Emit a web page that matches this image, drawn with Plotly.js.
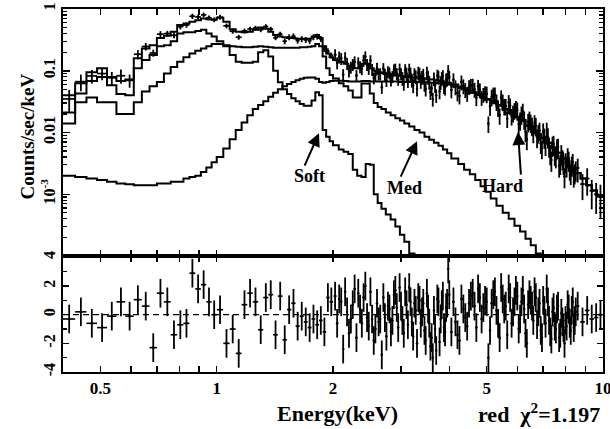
<!DOCTYPE html>
<html><head><meta charset="utf-8">
<script src="https://cdn.plot.ly/plotly-3.0.1.min.js"></script>
<style>html,body{margin:0;padding:0;background:#fff}#chart{width:610px;height:429px}</style>
</head><body><div id="chart"></div>
<script>
// ---- model bins (lower edges, keV) ----
const modelEdges = [0.40,0.43,0.46,0.49,0.52,0.55,0.58,0.61,0.64,0.67,0.70,0.73,0.76,0.79,0.82,0.85,0.88,0.91,0.94,0.97,
 1.00,1.04,1.08,1.12,1.16,1.20,1.24,1.28,1.32,1.36,1.40,1.44,1.48,1.52,1.56,1.60,1.64,1.68,1.72,1.76,1.80,1.84,1.88,1.92,1.96,
 2.00,2.07,2.13,2.19,2.25,2.31,2.37,2.43,2.49,2.55,2.61,2.67,2.74,2.82,2.90,2.98,3.06,3.15,3.25,3.35,3.45,3.55,3.65,3.75,3.85,3.95,
 4.05,4.22,4.37,4.52,4.67,4.82,4.97,5.12,5.30,5.50,5.70,5.90,6.10,6.30,6.50,6.70,6.90,7.12,7.37,7.62,7.87,8.15,8.45,8.75,9.05,9.35,9.65];
const modelEdgeMax = 10;
const totalModel = [0.040,0.063,0.095,0.11,0.079,0.068,0.072,0.16,0.23,0.26,0.34,0.37,0.43,0.55,0.58,0.62,0.66,0.70,0.68,0.67,
 0.72,0.62,0.47,0.43,0.42,0.43,0.46,0.50,0.48,0.43,0.38,0.36,0.35,0.34,0.34,0.33,0.33,0.33,0.33,0.36,0.38,0.34,0.25,0.19,0.165,
 0.15,0.14,0.13,0.12,0.11,0.11,0.13,0.13,0.11,0.10,0.095,0.092,0.089,0.086,0.084,0.082,0.080,0.078,0.077,0.076,0.074,0.072,0.070,0.068,0.066,0.064,
 0.060,0.055,0.050,0.046,0.042,0.038,0.035,0.032,0.028,0.024,0.021,0.018,0.016,0.013,0.011,0.0095,0.0082,0.0068,0.0056,0.0047,0.0038,0.0028,0.0022,0.0018,0.0014,0.00115,0.00092];
const softModel = [0.021,0.043,0.068,0.079,0.058,0.042,0.040,0.11,0.15,0.18,0.25,0.26,0.30,0.40,0.42,0.42,0.44,0.46,0.40,0.36,
 0.30,0.25,0.18,0.14,0.135,0.135,0.14,0.20,0.215,0.17,0.10,0.065,0.050,0.042,0.036,0.032,0.029,0.027,0.027,0.033,0.045,0.040,0.011,0.0085,0.0072,
 0.0062,0.0053,0.0049,0.0045,0.0025,0.0020,0.0019,0.0031,0.0030,0.0010,0.00072,0.00058,0.00047,0.00039,0.00030,0.00022,0.00017,0.00011,0.00008];
const medModel = [0.014,0.031,0.037,0.031,0.031,0.020,0.020,0.031,0.046,0.056,0.066,0.090,0.115,0.14,0.165,0.19,0.21,0.23,0.25,0.27,
 0.27,0.26,0.25,0.245,0.24,0.24,0.245,0.25,0.245,0.24,0.235,0.235,0.235,0.235,0.235,0.235,0.24,0.24,0.245,0.25,0.27,0.25,0.17,0.11,0.085,
 0.075,0.063,0.056,0.048,0.037,0.037,0.062,0.062,0.043,0.030,0.026,0.024,0.021,0.019,0.017,0.0157,0.014,0.0125,0.011,0.010,0.0085,0.0076,0.0068,0.0061,0.0053,0.0046,
 0.0038,0.0031,0.0025,0.0021,0.0017,0.00135,0.0011,0.00085,0.00065,0.0005,0.0004,0.00031,0.00025,0.00019,0.00015,0.00011,0.00008];
const hardModel = [0.0020,0.0019,0.0018,0.0017,0.0016,0.0015,0.00145,0.0014,0.0014,0.0014,0.0015,0.0015,0.0016,0.0016,0.0018,0.0019,0.0020,0.0023,0.0027,0.0033,
 0.0040,0.0055,0.0078,0.011,0.0145,0.019,0.024,0.028,0.032,0.038,0.044,0.050,0.056,0.061,0.066,0.070,0.074,0.077,0.078,0.078,0.074,0.066,0.064,0.066,0.068,
 0.069,0.069,0.068,0.067,0.067,0.067,0.068,0.068,0.067,0.067,0.067,0.067,0.067,0.067,0.067,0.066,0.066,0.066,0.066,0.065,0.065,0.064,0.063,0.062,0.061,0.060,
 0.056,0.052,0.048,0.044,0.040,0.037,0.034,0.031,0.027,0.0235,0.0205,0.0177,0.0157,0.0128,0.0109,0.0094,0.0081,0.0068,0.0056,0.0047,0.0038,0.0028,0.0022,0.0018,0.0014,0.00115,0.00092];

// ---- data (bin centres, keV) ----
const dataE = [0.415,0.445,0.475,0.505,0.535,0.565,0.595,0.625,0.655,0.685,0.715,0.745,0.775,0.805,0.835,0.865,0.895,0.925,0.955,0.985,
 1.02,1.06,1.10,1.14,1.18,1.22,1.26,1.30,1.34,1.38,1.42,1.46,1.50,1.54,1.58,1.62,1.66,1.70,1.74,1.78,1.82,1.86,1.90,1.94,1.98,
 2.025,2.05,2.075,2.10,2.125,2.15,2.175,2.20,2.225,2.25,2.275,2.30,2.325,2.35,2.375,2.40,2.425,2.45,2.475,2.50,
 2.525,2.55,2.575,2.60,2.625,2.65,2.675,2.70,2.725,2.75,2.775,2.80,2.825,2.85,2.875,2.90,2.925,2.95,2.975,3.00,
 3.025,3.05,3.075,3.10,3.125,3.15,3.175,3.20,3.225,3.25,3.275,3.30,3.325,3.35,3.375,3.40,3.425,3.45,3.475,3.50,
 3.525,3.55,3.575,3.60,3.625,3.65,3.675,3.70,3.725,3.75,3.775,3.80,3.825,3.85,3.875,3.90,3.925,3.95,3.975,4.00,
 4.05,4.10,4.15,4.20,4.25,4.30,4.35,4.40,4.45,4.50,4.55,4.60,4.65,4.70,4.75,4.80,4.85,4.90,4.95,5.00,
 5.05,5.10,5.15,5.20,5.25,5.30,5.35,5.40,5.45,5.50,5.55,5.60,5.65,5.70,5.75,5.80,5.85,5.90,5.95,6.00,
 6.05,6.10,6.15,6.20,6.25,6.30,6.35,6.40,6.45,6.50,6.55,6.60,6.65,6.70,6.75,6.80,6.85,6.90,6.95,7.00,
 7.05,7.10,7.15,7.20,7.25,7.30,7.35,7.40,7.45,7.50,7.55,7.60,7.65,7.70,7.75,7.80,7.85,7.90,7.95,8.00,
 8.05,8.10,8.15,8.20,8.25,8.30,8.35,8.40,8.45,8.50,
 8.6,8.85,9.1,9.35,9.6,9.85];
const dataCounts = [0.035,0.0665,0.0825,0.090,0.077,0.083,0.070,0.185,0.247,0.194,0.391,0.40,0.376,0.519,0.552,0.764,0.743,0.803,0.723,0.67,
 0.738,0.533,0.437,0.349,0.441,0.475,0.489,0.463,0.520,0.472,0.343,0.393,0.301,0.350,0.362,0.309,0.327,0.317,0.306,0.351,0.359,0.329,0.226,0.208,0.177,
 0.182,0.135,0.168,0.159,0.087,0.164,0.132,0.100,0.115,0.127,0.140,0.084,0.135,0.117,0.109,0.148,0.169,0.127,0.110,0.146,
 0.105,0.077,0.085,0.110,0.089,0.090,0.054,0.109,0.088,0.070,0.097,0.093,0.071,0.081,0.104,0.107,0.090,0.073,0.107,0.090,
 0.076,0.063,0.102,0.090,0.070,0.104,0.090,0.071,0.058,0.088,0.081,0.051,0.093,0.0895,0.068,0.079,0.086,0.061,0.051,0.093,
 0.079,0.066,0.045,0.052,0.035,0.075,0.058,0.040,0.083,0.080,0.046,0.065,0.076,0.082,0.056,0.053,0.072,0.074,0.099,0.079,
 0.049,0.0715,0.055,0.0438,0.039,0.0659,0.057,0.0496,0.043,0.0555,0.058,0.0584,0.050,0.0365,0.056,0.0492,0.037,0.0414,0.044,0.0425,
 0.014,0.0265,0.038,0.041,0.041,0.0318,0.0255,0.019,0.037,0.0317,0.027,0.0269,0.0169,0.031,0.0273,0.0185,0.0208,0.0230,0.025,0.0231,
 0.0137,0.0159,0.0198,0.022,0.0165,0.0104,0.0077,0.0150,0.0164,0.0146,0.0130,0.0100,0.0143,0.0129,0.0083,0.0099,0.0108,0.0067,0.0055,0.0103,
 0.0085,0.0065,0.0106,0.0086,0.0061,0.0046,0.0036,0.0063,0.0065,0.0045,0.0041,0.0057,0.0058,0.0029,0.0032,0.0046,0.0038,0.0032,0.00195,0.0034,
 0.0029,0.0041,0.0036,0.0026,0.0022,0.0030,0.0033,0.0020,0.00225,0.0025,
 0.00266,0.00146,0.00179,0.00114,0.0010,0.00092];
const dataRelErr = [0.40,0.30,0.25,0.22,0.24,0.26,0.24,0.17,0.14,0.13,0.12,0.11,0.11,0.10,0.10,0.10,0.09,0.09,0.09,0.09,
 0.09,0.09,0.09,0.09,0.09,0.09,0.09,0.09,0.09,0.09,0.09,0.09,0.11,0.11,0.11,0.11,0.11,0.11,0.11,0.11,0.11,0.11,0.11,0.11,0.11,
 0.22,0.22,0.22,0.22,0.22,0.22,0.22,0.22,0.22,0.22,0.22,0.22,0.22,0.22,0.22,0.22,0.22,0.22,0.22,0.22,
 0.22,0.22,0.22,0.22,0.22,0.22,0.22,0.22,0.22,0.22,0.22,0.22,0.22,0.22,0.22,0.22,0.22,0.22,0.22,0.22,
 0.25,0.25,0.25,0.25,0.25,0.25,0.25,0.25,0.25,0.25,0.25,0.25,0.25,0.25,0.25,0.25,0.25,0.25,0.25,0.25,
 0.25,0.25,0.25,0.25,0.25,0.25,0.25,0.25,0.25,0.25,0.25,0.25,0.25,0.25,0.25,0.25,0.25,0.25,0.25,0.25,
 0.27,0.27,0.27,0.27,0.27,0.27,0.27,0.27,0.27,0.27,0.27,0.27,0.27,0.27,0.27,0.27,0.27,0.27,0.27,0.30,
 0.30,0.30,0.30,0.30,0.30,0.30,0.30,0.30,0.30,0.30,0.30,0.30,0.30,0.30,0.30,0.30,0.30,0.30,0.30,0.33,
 0.33,0.33,0.33,0.33,0.33,0.33,0.33,0.33,0.33,0.33,0.33,0.33,0.33,0.33,0.33,0.33,0.33,0.33,0.33,0.36,
 0.36,0.36,0.36,0.36,0.36,0.36,0.36,0.36,0.36,0.36,0.36,0.36,0.36,0.36,0.36,0.36,0.36,0.36,0.36,0.36,
 0.36,0.36,0.36,0.36,0.36,0.36,0.36,0.36,0.36,0.36,
 0.42,0.45,0.47,0.50,0.52,0.55];
const residuals = [-0.3,0.2,-0.6,-0.9,-0.1,0.9,-0.1,1.05,0.6,-2.3,1.5,0.9,-1.4,-0.7,-0.6,2.9,1.8,2.1,0.9,0.0,
 0.35,-2.0,-1.0,-2.7,0.7,1.5,0.9,-1.05,1.2,1.4,-1.4,1.3,-1.75,0.35,0.8,-0.8,-0.1,-0.5,-0.9,-0.3,-0.7,-0.4,-1.2,1.2,0.9,
 1.3,-0.6,1.1,0.9,-2.4,1.6,0.2,-1.3,-0.3,0.7,1.8,-1.6,1.5,0.4,-0.6,1.2,2.0,-0.2,-0.8,1.6,
 -0.3,-1.8,-1.0,0.8,-0.5,-0.3,-2.8,1.2,-0.2,-1.5,0.6,0.4,-1.2,-0.4,1.4,1.7,0.5,-0.9,1.9,0.6,
 -0.4,-1.3,1.6,0.7,-0.7,1.9,0.9,-0.5,-1.5,0.8,0.3,-2.0,1.2,1.0,-0.6,0.2,0.8,-1.1,-1.8,1.5,
 0.4,-0.6,-2.2,-1.6,-3.0,0.3,-1.0,-2.5,1.1,0.9,-1.9,-0.3,0.7,1.3,-0.9,-1.2,0.5,0.8,3.2,1.4,
 -1.2,0.9,-0.5,-1.4,-1.8,1.1,0.4,-0.2,-0.8,0.8,1.3,1.5,0.6,-0.9,1.8,1.2,-0.3,0.5,1.0,0.9,
 -3.0,-1.1,0.8,1.4,1.6,0.3,-0.6,-1.6,1.9,1.1,0.4,0.6,-1.4,1.8,1.2,-0.6,0.2,0.9,1.7,1.3,
 -1.0,-0.3,0.9,1.7,0.4,-1.3,-2.0,0.7,1.4,1.0,0.6,-0.4,1.6,1.2,-0.7,0.2,0.8,-1.1,-1.6,1.0,
 0.3,-0.6,1.8,0.9,-0.4,-1.2,-1.7,0.2,0.5,-0.8,-1.0,0.4,0.6,-1.6,-1.3,0.1,-0.5,-0.9,-2.0,-0.4,
 -0.8,0.7,0.4,-0.6,-1.1,0.3,0.9,-0.9,-0.4,0.2,
 0.6,-0.5,0.3,-0.3,-0.2,0.0];

// ---- ticks ----
const xTickVals = [0.4,0.5,0.6,0.7,0.8,0.9,1,2,3,4,5,6,7,8,9,10];
const xTickText = ['','0.5','','','','','1','2','','','5','','','','','10'];
const yTickVals = [1,0.1,0.01,0.001];
const yTickText = ['1','0.1','0.01','10<sup>-3</sup>'];
const rTickVals = [-4,-2,0,2,4];
const rTickText = ['-4','-2','0','2','4'];
const rMinorVals = [-3,-1,1,3];

const yMinor = [];
[1e-4,1e-3,1e-2,1e-1].forEach(d => { for (let k = 2; k <= 9; k++) yMinor.push(k * d); });

const FAM = '"Liberation Serif","Times New Roman",Times,serif';
const BLK = '#000';

function stepTrace(vals) {
  const xs = modelEdges.slice(0, vals.length);
  const ys = vals.slice();
  if (vals.length === modelEdges.length) { xs.push(modelEdgeMax); ys.push(vals[vals.length - 1]); }
  return {x: xs, y: ys, type: 'scatter', mode: 'lines', line: {shape: 'hv', color: BLK, width: 2},
          xaxis: 'x', yaxis: 'y', hoverinfo: 'skip'};
}

const halfW = dataE.map((e, i) => {
  const a = i > 0 ? dataE[i - 1] : null, b = i < dataE.length - 1 ? dataE[i + 1] : null;
  if (a === null) return (b - e) / 2;
  if (b === null) return (e - a) / 2;
  return (b - a) / 4;
});

const traces = [
  stepTrace(hardModel), stepTrace(medModel), stepTrace(softModel), stepTrace(totalModel),
  {x: dataE, y: dataCounts, type: 'scatter', mode: 'markers', marker: {size: 2.5, color: BLK},
   error_y: {type: 'data', array: dataCounts.map((v, i) => v * dataRelErr[i]), color: BLK, thickness: 1.8, width: 0},
   error_x: {type: 'data', array: halfW, color: BLK, thickness: 1.7, width: 0},
   xaxis: 'x', yaxis: 'y', hoverinfo: 'skip'},
  {x: dataE, y: residuals, type: 'scatter', mode: 'markers', marker: {size: 2.5, color: BLK},
   error_y: {type: 'constant', value: 1, color: BLK, thickness: 1.8, width: 0},
   error_x: {type: 'data', array: halfW, color: BLK, thickness: 1.6, width: 0},
   xaxis: 'x2', yaxis: 'y2', hoverinfo: 'skip'}
];

const tf = (s) => ({family: FAM, size: s, color: BLK, weight: 'bold'});
const axBase = {showline: true, linewidth: 2, linecolor: BLK, mirror: 'ticks', ticks: 'inside',
  tickcolor: BLK, tickwidth: 1.5, showgrid: false, zeroline: false};
const xr = [Math.log10(0.4), Math.log10(10)];
const botDomain = 116 / 363;

const layout = {
  width: 610, height: 429, margin: {l: 63, r: 7, t: 9, b: 57},
  paper_bgcolor: '#fff', plot_bgcolor: '#fff', showlegend: false,
  font: tf(16),
  xaxis: Object.assign({}, axBase, {type: 'log', range: xr, domain: [0, 1], anchor: 'y',
    tickmode: 'array', tickvals: xTickVals, ticktext: xTickText, showticklabels: false, ticklen: 6}),
  xaxis2: Object.assign({}, axBase, {type: 'log', range: xr, domain: [0, 1], anchor: 'y2', matches: 'x',
    tickmode: 'array', tickvals: xTickVals, ticktext: xTickText, ticklen: 6, tickfont: tf(17),
    ticklabeloverflow: 'allow'}),
  yaxis: Object.assign({}, axBase, {type: 'log', range: [-4, 0], domain: [botDomain, 1], anchor: 'x',
    tickmode: 'array', tickvals: yTickVals, ticktext: yTickText, tickangle: -90, ticklen: 7, tickfont: tf(16),
    minor: {tickmode: 'array', tickvals: yMinor, ticks: 'inside', ticklen: 4, tickcolor: BLK, tickwidth: 1.2}}),
  yaxis2: Object.assign({}, axBase, {range: [-4, 4.1], domain: [0, botDomain], anchor: 'x2',
    tickmode: 'array', tickvals: rTickVals, ticktext: rTickText, tickangle: -90, ticklen: 6, tickfont: tf(16),
    minor: {tickmode: 'array', tickvals: rMinorVals, ticks: 'inside', ticklen: 4, tickcolor: BLK, tickwidth: 1.2}}),
  shapes: [{type: 'line', xref: 'paper', x0: 0, x1: 1, yref: 'y2', y0: 0, y1: 0,
    line: {color: BLK, width: 1.3, dash: '6px,4px'}, layer: 'below'}],
  annotations: [
    {xref: 'paper', yref: 'paper', x: -0.066, y: 0.650, text: 'Counts/sec/keV', showarrow: false,
     textangle: -90, xanchor: 'center', yanchor: 'middle', font: tf(19)},
    {xref: 'paper', yref: 'paper', x: 0.509, y: -0.113, text: 'Energy(keV)', showarrow: false,
     xanchor: 'center', yanchor: 'middle', font: tf(22)},
    {xref: 'paper', yref: 'paper', x: 0.998, y: -0.113, text: 'red&nbsp;&nbsp;χ<sup>2</sup>=1.197', showarrow: false,
     xanchor: 'right', yanchor: 'middle', font: tf(22)},
    {xref: 'paper', yref: 'paper', x: 0.4556, y: 0.540, text: 'Soft', showarrow: false, font: tf(18)},
    {xref: 'paper', yref: 'paper', x: 0.6315, y: 0.507, text: 'Med', showarrow: false, font: tf(18)},
    {xref: 'paper', yref: 'paper', x: 0.8556, y: 0.512, text: 'Hard', showarrow: false, font: tf(18)},
    {xref: 'paper', yref: 'paper', x: 0.474, y: 0.658, text: '', showarrow: true, ax: -15, ay: 34,
     arrowhead: 2, arrowsize: 1.3, arrowwidth: 2, arrowcolor: BLK},
    {xref: 'paper', yref: 'paper', x: 0.6556, y: 0.636, text: '', showarrow: true, ax: -17, ay: 37,
     arrowhead: 2, arrowsize: 1.3, arrowwidth: 2, arrowcolor: BLK},
    {xref: 'paper', yref: 'paper', x: 0.8426, y: 0.661, text: '', showarrow: true, ax: 3, ay: 44,
     arrowhead: 2, arrowsize: 1.3, arrowwidth: 2, arrowcolor: BLK}
  ]
};

Plotly.newPlot('chart', traces, layout, {displayModeBar: false, staticPlot: true});
</script>
</body></html>
